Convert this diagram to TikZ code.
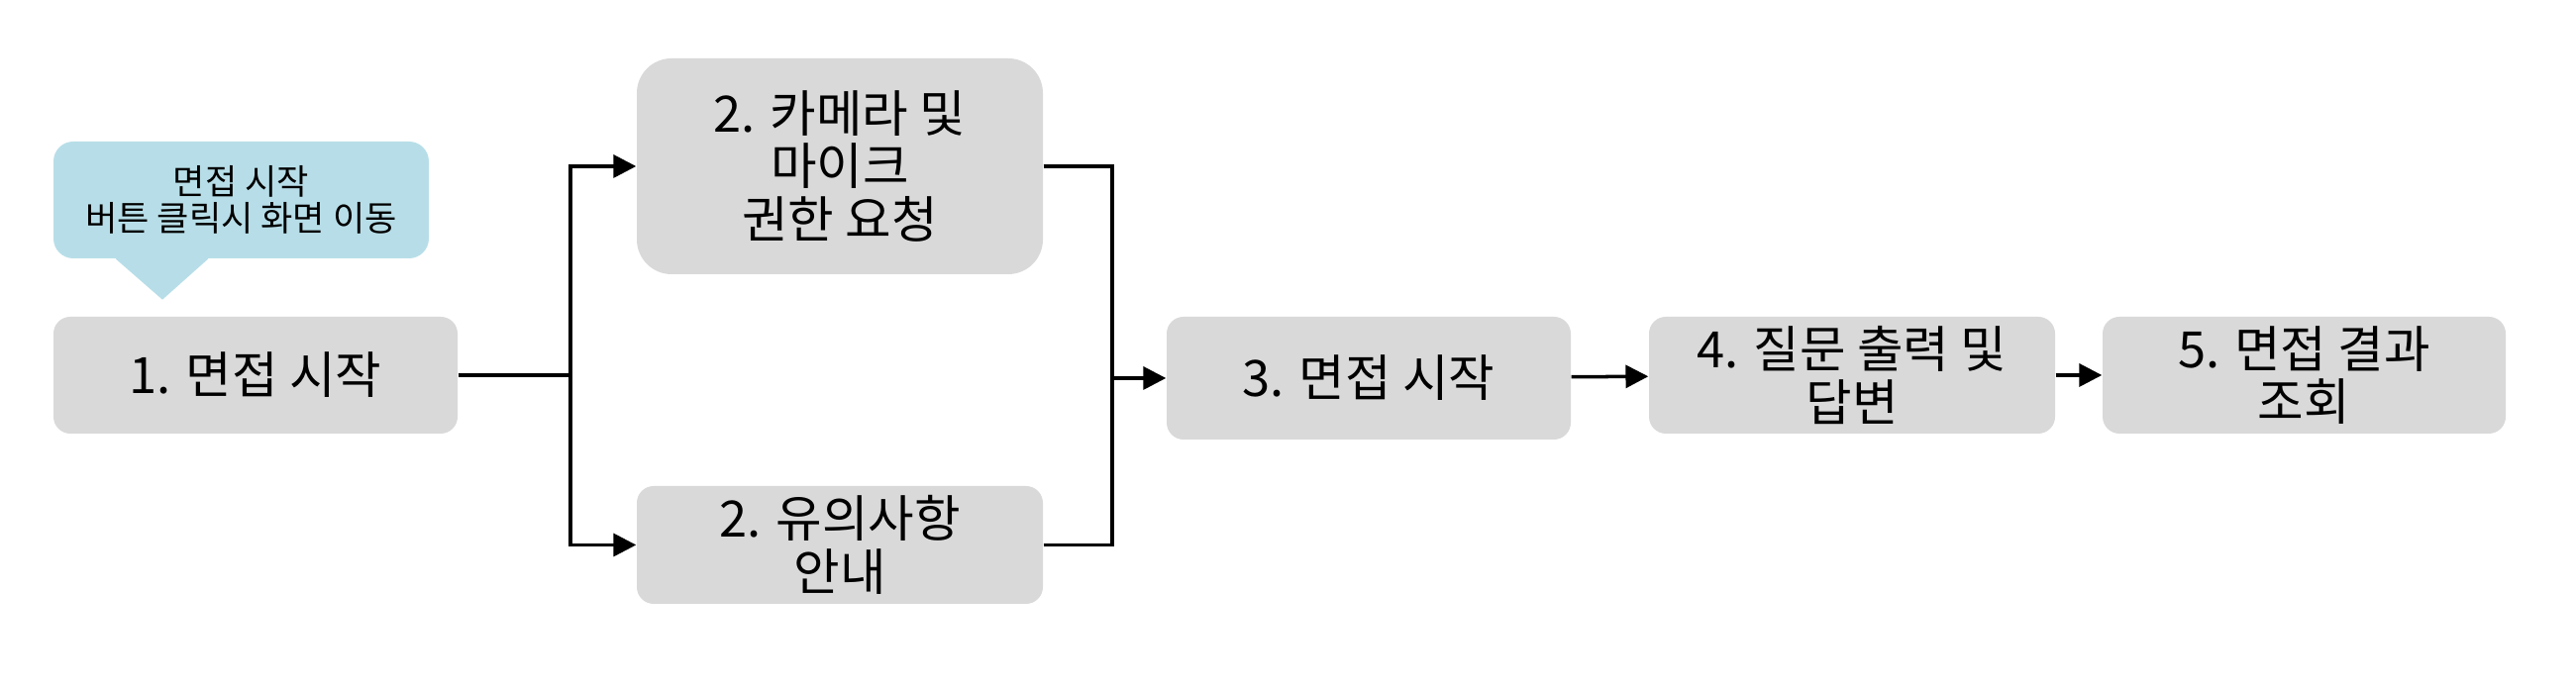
\documentclass[tikz,border=0pt]{standalone}
\usepackage{fontspec}
\setmainfont{Noto Sans CJK KR}
\usetikzlibrary{arrows.meta}
\definecolor{stepgray}{RGB}{217,217,217}
\definecolor{tipblue}{RGB}{183,222,232}

\begin{document}
\begin{tikzpicture}[
    stage/.style={fill=stepgray,rounded corners=0.17cm,minimum width=4.08cm,minimum height=1.18cm,
      align=center,inner sep=0pt,font=\fontsize{14.4}{15.3}\selectfont},
    link/.style={line width=1pt},
    flow/.style={line width=1pt,-{Triangle[length=6.5pt,width=6.5pt]}}]
  \useasboundingbox (0,0) rectangle (26.01,6.97);
  \node[fill=tipblue,rounded corners=0.2cm,minimum width=3.79cm,minimum height=1.18cm,align=center,
    font=\fontsize{10}{10.6}\selectfont] (tip) at (2.435,4.95) {면접 시작\\버튼 클릭시 화면 이동};
  \fill[tipblue] ([xshift=-12.65mm,yshift=1mm]tip.south) -- ([xshift=-12.65mm]tip.south)
    -- ([xshift=-7.95mm,yshift=-4.1mm]tip.south) -- ([xshift=-3.35mm]tip.south)
    -- ([xshift=-3.35mm,yshift=1mm]tip.south) -- cycle;
  \node[stage] (start) at (2.58,3.18) {1. 면접 시작};
  \node[stage,minimum width=4.10cm,minimum height=2.18cm,rounded corners=0.35cm] (perm) at (8.48,5.29) {2. 카메라 및\\마이크\\권한 요청};
  \node[stage,minimum width=4.10cm,minimum height=1.19cm] (notice) at (8.48,1.465) {2. 유의사항\\안내};
  \node[stage,minimum height=1.24cm] (interview) at (13.82,3.15) {3. 면접 시작};
  \node[stage,minimum width=4.10cm] (answer) at (18.70,3.18) {4. 질문 출력 및\\답변};
  \node[stage,minimum width=4.07cm] (result) at (23.265,3.18) {5. 면접 결과\\조회};
  \coordinate (split) at (5.76,3.18);
  \coordinate (join) at (11.23,3.15);
  \draw[link] (start) -- (split);
  \draw[flow] (split) |- (perm);
  \draw[flow] (split) |- (notice);
  \draw[link] (perm) -| (join);
  \draw[link] (notice) -| (join);
  \draw[flow] (join) -- (interview);
  \draw[flow] (interview) -- (answer);
  \draw[flow] (answer) -- (result);
\end{tikzpicture}
\end{document}
